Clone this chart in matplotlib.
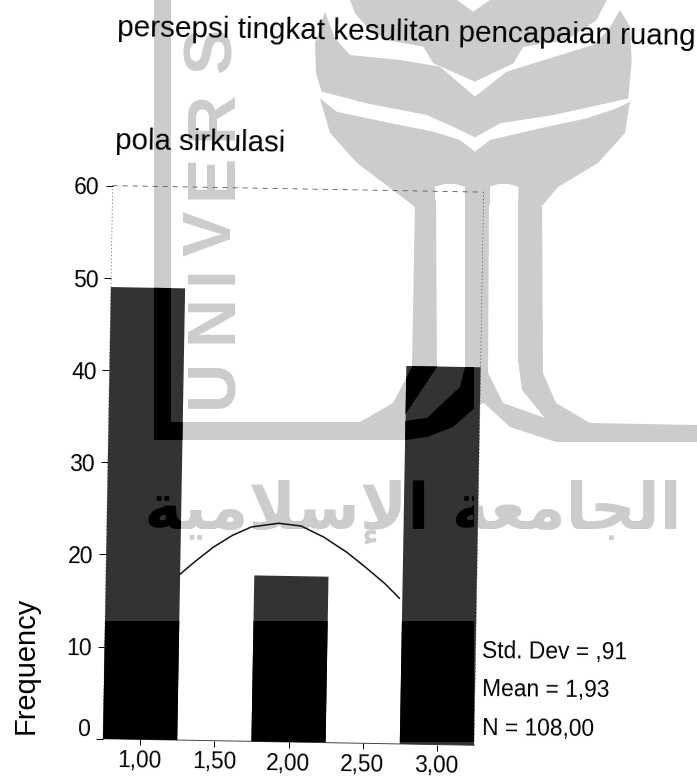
import matplotlib
matplotlib.use("Agg")
import matplotlib.pyplot as plt
import matplotlib.patheffects as pe
from matplotlib.patches import Polygon, Rectangle
from matplotlib.transforms import Affine2D

plt.rcParams['font.family'] = ['Liberation Sans', 'DejaVu Sans']

# ---- data
categories = [1.0, 2.0, 3.0]
frequency = [49, 18, 41]
curve_x = [1.25, 1.346, 1.472, 1.598, 1.725, 1.907, 2.059, 2.212, 2.369, 2.498, 2.628, 2.73]
curve_y = [18.0, 19.35, 21.0, 22.3, 23.25, 23.7, 23.45, 22.3, 20.7, 19.1, 17.4, 15.8]
x_ticks = [1.0, 1.5, 2.0, 2.5, 3.0]
x_labels = ['1,00', '1,50', '2,00', '2,50', '3,00']
y_ticks = [0, 10, 20, 30, 40, 50, 60]
title_text = 'persepsi tingkat kesulitan pencapaian ruang'
subtitle_text = 'pola sirkulasi'
y_label = 'Frequency'
stats = ['Std. Dev = ,91', 'Mean = 1,93', 'N = 108,00']

# ---- scanned watermark (image pixels)
GRAY = '#cccccc'
BAR = '#333333'
def z3(pts):
    return [(300 + x / 3, y / 3) for x, y in pts]
top_lobe = z3([(150,0),(165,40),(200,80),(260,120),(370,140),(400,190),(525,245),(640,190),
               (670,140),(800,120),(890,60),(920,0),(570,0),(520,35),(470,0)])
wing = z3([(75,35),(105,115),(150,165),(300,180),(420,200),(525,290),(620,215),(700,190),(880,135),
           (925,90),(960,30),(990,80),(995,180),(985,295),(920,310),(760,345),(600,370),(525,412),
           (470,385),(380,345),(200,310),(65,275),(48,220),(45,130)])
lower_lobe = z3([(60,295),(110,335),(250,365),(400,395),(480,420),(525,455),(570,420),(720,385),
                 (860,355),(950,325),(990,305),(975,399),(894,489),(774,561),(729,615),(655,615),
                 (655,560),(625,552),(595,552),(570,560),(570,615),(495,615),(495,560),(465,552),
                 (435,552),(405,560),(405,615),(345,621),(306,591),(171,489),(90,399)])
shield = [(154,0),(171,0),(171,422),(360,422),(393,403),(412,367),(415,200),(436,200),(437,367),
          (405,415),(405,421),(427,418),(460,387),(465,367),(465,200),(489,200),(488,373),(503,403),
          (545,418),(522,390),(518,360),(518,200),(542,200),(543,373),(556,403),(590,423),(697,425),
          (697,442),(556,442),(510,427),(484,403),(478,405),(453,427),(427,437),(405,440),(154,440)]
watermark_shapes = [top_lobe, wing, lower_lobe, shield]
watermark_letters = ['U', 'N', 'I', 'V', 'E', 'R', 'S']
watermark_letter_y = [383, 318, 275, 233, 176, 115, 50]
arabic_words = [
    [0xFE8D, 0xFEDF, 0xFEA0, 0xFE8E, 0xFEE3, 0xFECC, 0xFE94],
    [0xFE8D, 0xFEF9, 0xFEB3, 0xFEFC, 0xFEE3, 0xFEF4, 0xFE94],
]
arabic_text = ' '.join(''.join(chr(c) for c in reversed(w)) for w in reversed(arabic_words))
ARABIC_SIZE = 46

W, H = 697, 778
fig = plt.figure(figsize=(W / 100, H / 100), dpi=100, facecolor='white')
ax = fig.add_axes([103 / W, (H - 742) / H, (474 - 103) / W, (742 - 188.8) / H])
ax.patch.set_visible(False)
ax.set_xlim(0.75, 3.25)
ax.set_ylim(0, 60)
for s in ax.spines.values():
    s.set_visible(False)

# image pixels to display, and the slight clockwise tilt of the scan
px = Affine2D().scale(1, -1).translate(0, H)
rot = Affine2D().rotate_deg_around(289, H - 742, -1.0)

for pts in watermark_shapes:
    ax.add_patch(Polygon(pts, closed=True, fc=GRAY, ec='none', transform=px, zorder=1, clip_on=False))
for letter, yy in zip(watermark_letters, watermark_letter_y):
    ax.text(213, yy, letter, rotation=90, ha='center', va='center', fontsize=49, color=GRAY,
            transform=px, zorder=1, clip_on=False, fontweight='bold')
ax.text(413, 512, arabic_text, ha='center', va='center', fontsize=ARABIC_SIZE, color=GRAY, transform=px,
        zorder=1, clip_on=False, family='DejaVu Sans', fontweight='bold')

# bars, with the watermark showing through them as black
bars = ax.bar(categories, frequency, width=0.5, color=BAR, zorder=2, clip_on=False, linewidth=0)
for b in bars:
    b.set_transform(ax.transData + rot)
    clip = (b.get_path(), b.get_transform())
    over = Rectangle((0, 621), W, H - 621, fc='black', ec='none', transform=px, zorder=3)
    ax.add_patch(over)
    over.set_clip_path(*clip)
    p = Polygon(shield, closed=True, fc='black', ec='none', transform=px, zorder=3)
    ax.add_patch(p)
    p.set_clip_path(*clip)
    t = ax.text(413, 512, arabic_text, ha='center', va='center', fontsize=ARABIC_SIZE, color='black',
                transform=px, zorder=3, family='DejaVu Sans', fontweight='bold')
    t.set_path_effects([pe.Normal()])
    t.set_clip_on(True)
    t.set_clip_path(*clip)

ax.plot(curve_x, curve_y, color='#111111', lw=1.1, transform=ax.transData + rot, zorder=4, clip_on=False)

# frame: faint broken lines of the scan
frame = ax.transAxes + rot
ax.plot([0, 1], [1, 1], color='#555555', lw=0.6, ls=(0, (6, 6)), transform=frame, zorder=4, clip_on=False)
ax.plot([0, 0], [0, 1], color='#666666', lw=0.5, ls=(0, (2, 3)), transform=frame, zorder=1.5, clip_on=False)
ax.plot([1, 1], [0, 1], color='#555555', lw=0.5, ls=(0, (2, 3)), transform=frame, zorder=1.5, clip_on=False)
ax.plot([0, 1], [0, 0], color='#444444', lw=0.7, transform=frame, zorder=1.5, clip_on=False)

ax.set_xticks(x_ticks)
ax.set_xticklabels(x_labels)
ax.set_yticks(y_ticks)
ax.tick_params(axis='x', length=4, width=0.7, pad=3, labelsize=16.3, labelrotation=-1)
ax.tick_params(axis='y', length=5, width=0.7, pad=4, labelsize=16.5, labelrotation=-1)
for tick in ax.xaxis.get_major_ticks():
    tick.tick1line.set_transform(tick.tick1line.get_transform() + rot)
    tick.label1.set_transform(tick.label1.get_transform() + rot)
for i, tick in enumerate(ax.yaxis.get_major_ticks()):
    tick.tick1line.set_transform(tick.tick1line.get_transform() + rot)
    # the "0" sits higher than its tick in the scan
    lift = Affine2D().translate(0, 12 if i == 0 else 0)
    tick.label1.set_transform(tick.label1.get_transform() + rot + lift)

kw = dict(transform=px, color='black', clip_on=False, rotation_mode='anchor', zorder=5)
ax.text(117, 36, title_text, fontsize=21.3, rotation=-0.9, ha='left', va='baseline', **kw)
ax.text(115, 149, subtitle_text, fontsize=21.2, rotation=-0.9, ha='left', va='baseline', **kw)
ax.text(26, 665, y_label, fontsize=20.9, rotation=90, ha='center', va='center', **kw)
for s, yy in zip(stats, [658, 696, 735]):
    ax.text(482, yy, s, fontsize=16.4, rotation=-0.5, ha='left', va='baseline', **kw)

fig.savefig('out.png', dpi=100, facecolor='white')
